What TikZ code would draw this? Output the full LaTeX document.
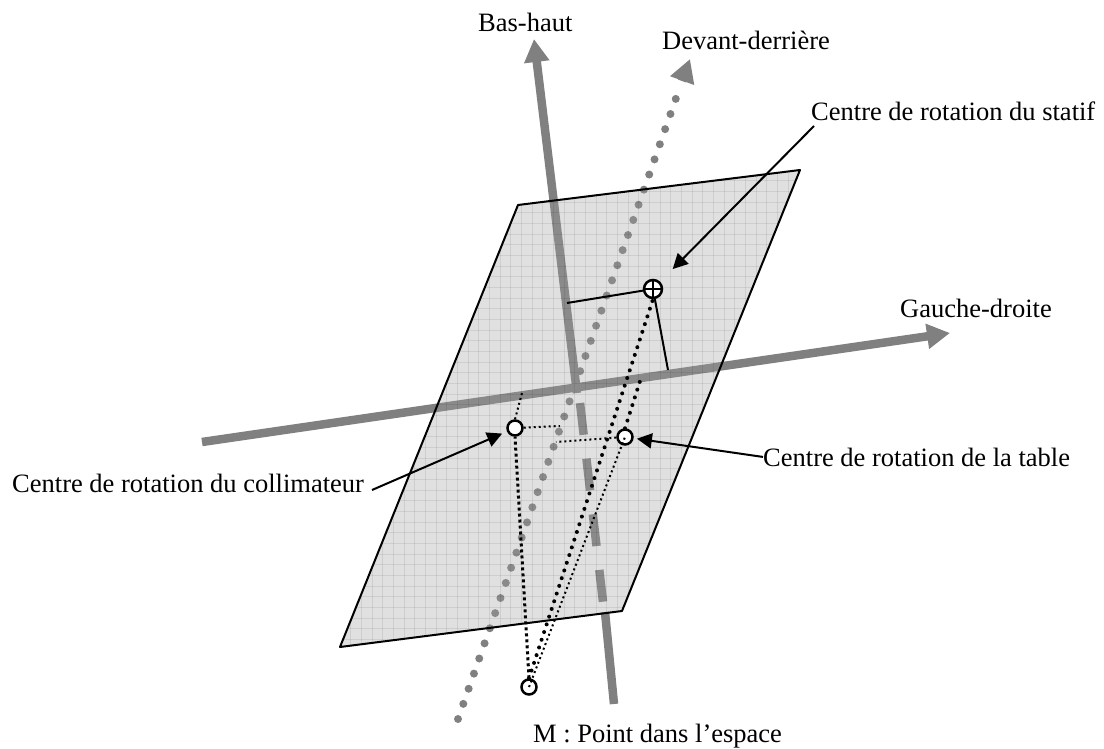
\documentclass[tikz,border=0pt]{standalone}
\usepackage{fontspec}
\setmainfont{Liberation Serif}
\usetikzlibrary{arrows.meta}
\definecolor{axe}{HTML}{808080}
\tikzset{%
    >={Triangle[length=15pt,width=15pt]},
    axeplein/.style  = {draw=axe, line width=8.5pt, -{Triangle[length=23pt,width=24pt]}},
    axetrait/.style  = {draw=axe, line width=8.5pt},
    axepoint/.style  = {draw=axe, line width=8pt, line cap=round, dash pattern=on 0pt off 16.03pt},
    plan/.style      = {fill=black!37, fill opacity=0.33},
    bord/.style      = {draw=black, line width=2pt, line join=round},
    centre/.style    = {circle, draw=black, fill=white, line width=2.5pt, inner sep=0pt, minimum size=15pt},
    etiquette/.style = {anchor=base west, inner sep=0pt, font=\fontsize{26.5}{31}\selectfont},
    trait/.style     = {draw=black, line width=2pt},
    fleche/.style    = {draw=black, line width=2pt, ->},
    grospoint/.style = {draw=black, line width=4pt, line cap=round, dash pattern=on 0pt off 8.1pt},
    carrepoint/.style= {draw=black, line width=3pt, dash pattern=on 3pt off 3pt},
    finpoint/.style  = {draw=black, line width=2pt, dash pattern=on 2pt off 3pt},
}
\begin{document}
\begin{tikzpicture}[x=1pt, y=-1pt]
    \useasboundingbox (0,0) rectangle (1104,749);
    % les trois axes
    \coordinate (gd0) at (202,442);
    \coordinate (gd1) at (950,333);
    \coordinate (bh0) at (614,704);
    \coordinate (bh1) at (605,612);
    \coordinate (bh2) at (603,602);
    \coordinate (bh3) at (580,403);
    \coordinate (bh4) at (577,393);
    \coordinate (bh5) at (534,39);
    \coordinate (dd0) at (458,719);
    \coordinate (dd1) at (681,84);
    \coordinate (dd2) at (682,81);
    \coordinate (dd3) at (690,59);

    \draw[axepoint] (dd0) -- (dd1);
    \draw[axeplein] (dd2) -- (dd3);
    \draw[axetrait] (bh0) -- (bh1);
    \draw[axetrait, dash pattern=on 32pt off 24pt] (bh3) -- (bh2);
    \draw[axeplein] (bh4) -- (bh5);
    \draw[axeplein] (gd0) -- (gd1);

    % le plan et sa grille
    \coordinate (p1) at (518,205);
    \coordinate (p2) at (800,170);
    \coordinate (p3) at (622,611);
    \coordinate (p4) at (340,647);
    \fill[plan] (p1) -- (p2) -- (p3) -- (p4) -- cycle;
    \begin{scope}
        \clip (p1) -- (p2) -- (p3) -- (p4) -- cycle;
        \foreach \i in {0,...,44} {
            \draw[black, opacity=0.08, line width=1pt] (340+10.67*\i,160) -- (340+10.67*\i,660);
        }
        \foreach \i in {0,...,46} {
            \draw[black, opacity=0.08, line width=1pt] (330,170+10.67*\i) -- (810,170+10.67*\i);
        }
    \end{scope}
    \draw[bord] (p1) -- (p2) -- (p3) -- (p4) -- cycle;

    % les centres de rotation
    \node (statif) [centre, minimum size=18pt] at (653,289) {};
    \node (coll)   [centre] at (515,428) {};
    \node (table)  [centre] at (625,437) {};
    \node (mpt)    [centre, fill=none] at (529,687) {};
    \draw[line width=1.5pt] (statif.west) -- (statif.east);
    \draw[line width=1.5pt] (statif.north) -- (statif.south);

    \coordinate (surbh) at (567,303);
    \coordinate (surgd) at (668,370);
    \coordinate (piedc) at (522,393);
    \coordinate (piedd) at (560,426);
    \coordinate (piede) at (556,442);
    \coordinate (piedf) at (641,378);

    \draw[trait] (statif) -- (surbh);
    \draw[trait] (statif) -- (surgd);
    \draw[grospoint] (mpt.north) -- (statif.south);
    \draw[grospoint] (table.north) -- (piedf);
    \draw[carrepoint] (mpt.north) -- (coll.south);
    \draw[finpoint] (mpt.center) -- (table.center);
    \draw[finpoint] (coll.north) -- (piedc);
    \draw[finpoint] (coll) -- (piedd);
    \draw[finpoint] (table) -- (piede);

    % les textes
    \node (bashaut) [etiquette] at (478,32)  {Bas-haut};
    \node (devant)  [etiquette] at (662,50)  {Devant-derrière};
    \node (gauche)  [etiquette] at (900,317) {Gauche-droite};
    \node (lstatif) [etiquette] at (811,121) {Centre de rotation du statif};
    \node (ltable)  [etiquette] at (763,466) {Centre de rotation de la table};
    \node (lcoll)   [etiquette] at (12,492)  {Centre de rotation du collimateur};
    \node (lm)      [etiquette] at (533,742) {M : Point dans l’espace};

    \coordinate (dstatif) at (814,126);
    \draw[fleche, shorten >=28pt] (dstatif) -- (statif.center);
    \draw[fleche, shorten >=12pt] (ltable.west) -- (table.center);
    \coordinate (dcoll) at (372,490);
    \draw[fleche, shorten >=14pt] (dcoll) -- (coll.center);
\end{tikzpicture}
\end{document}
